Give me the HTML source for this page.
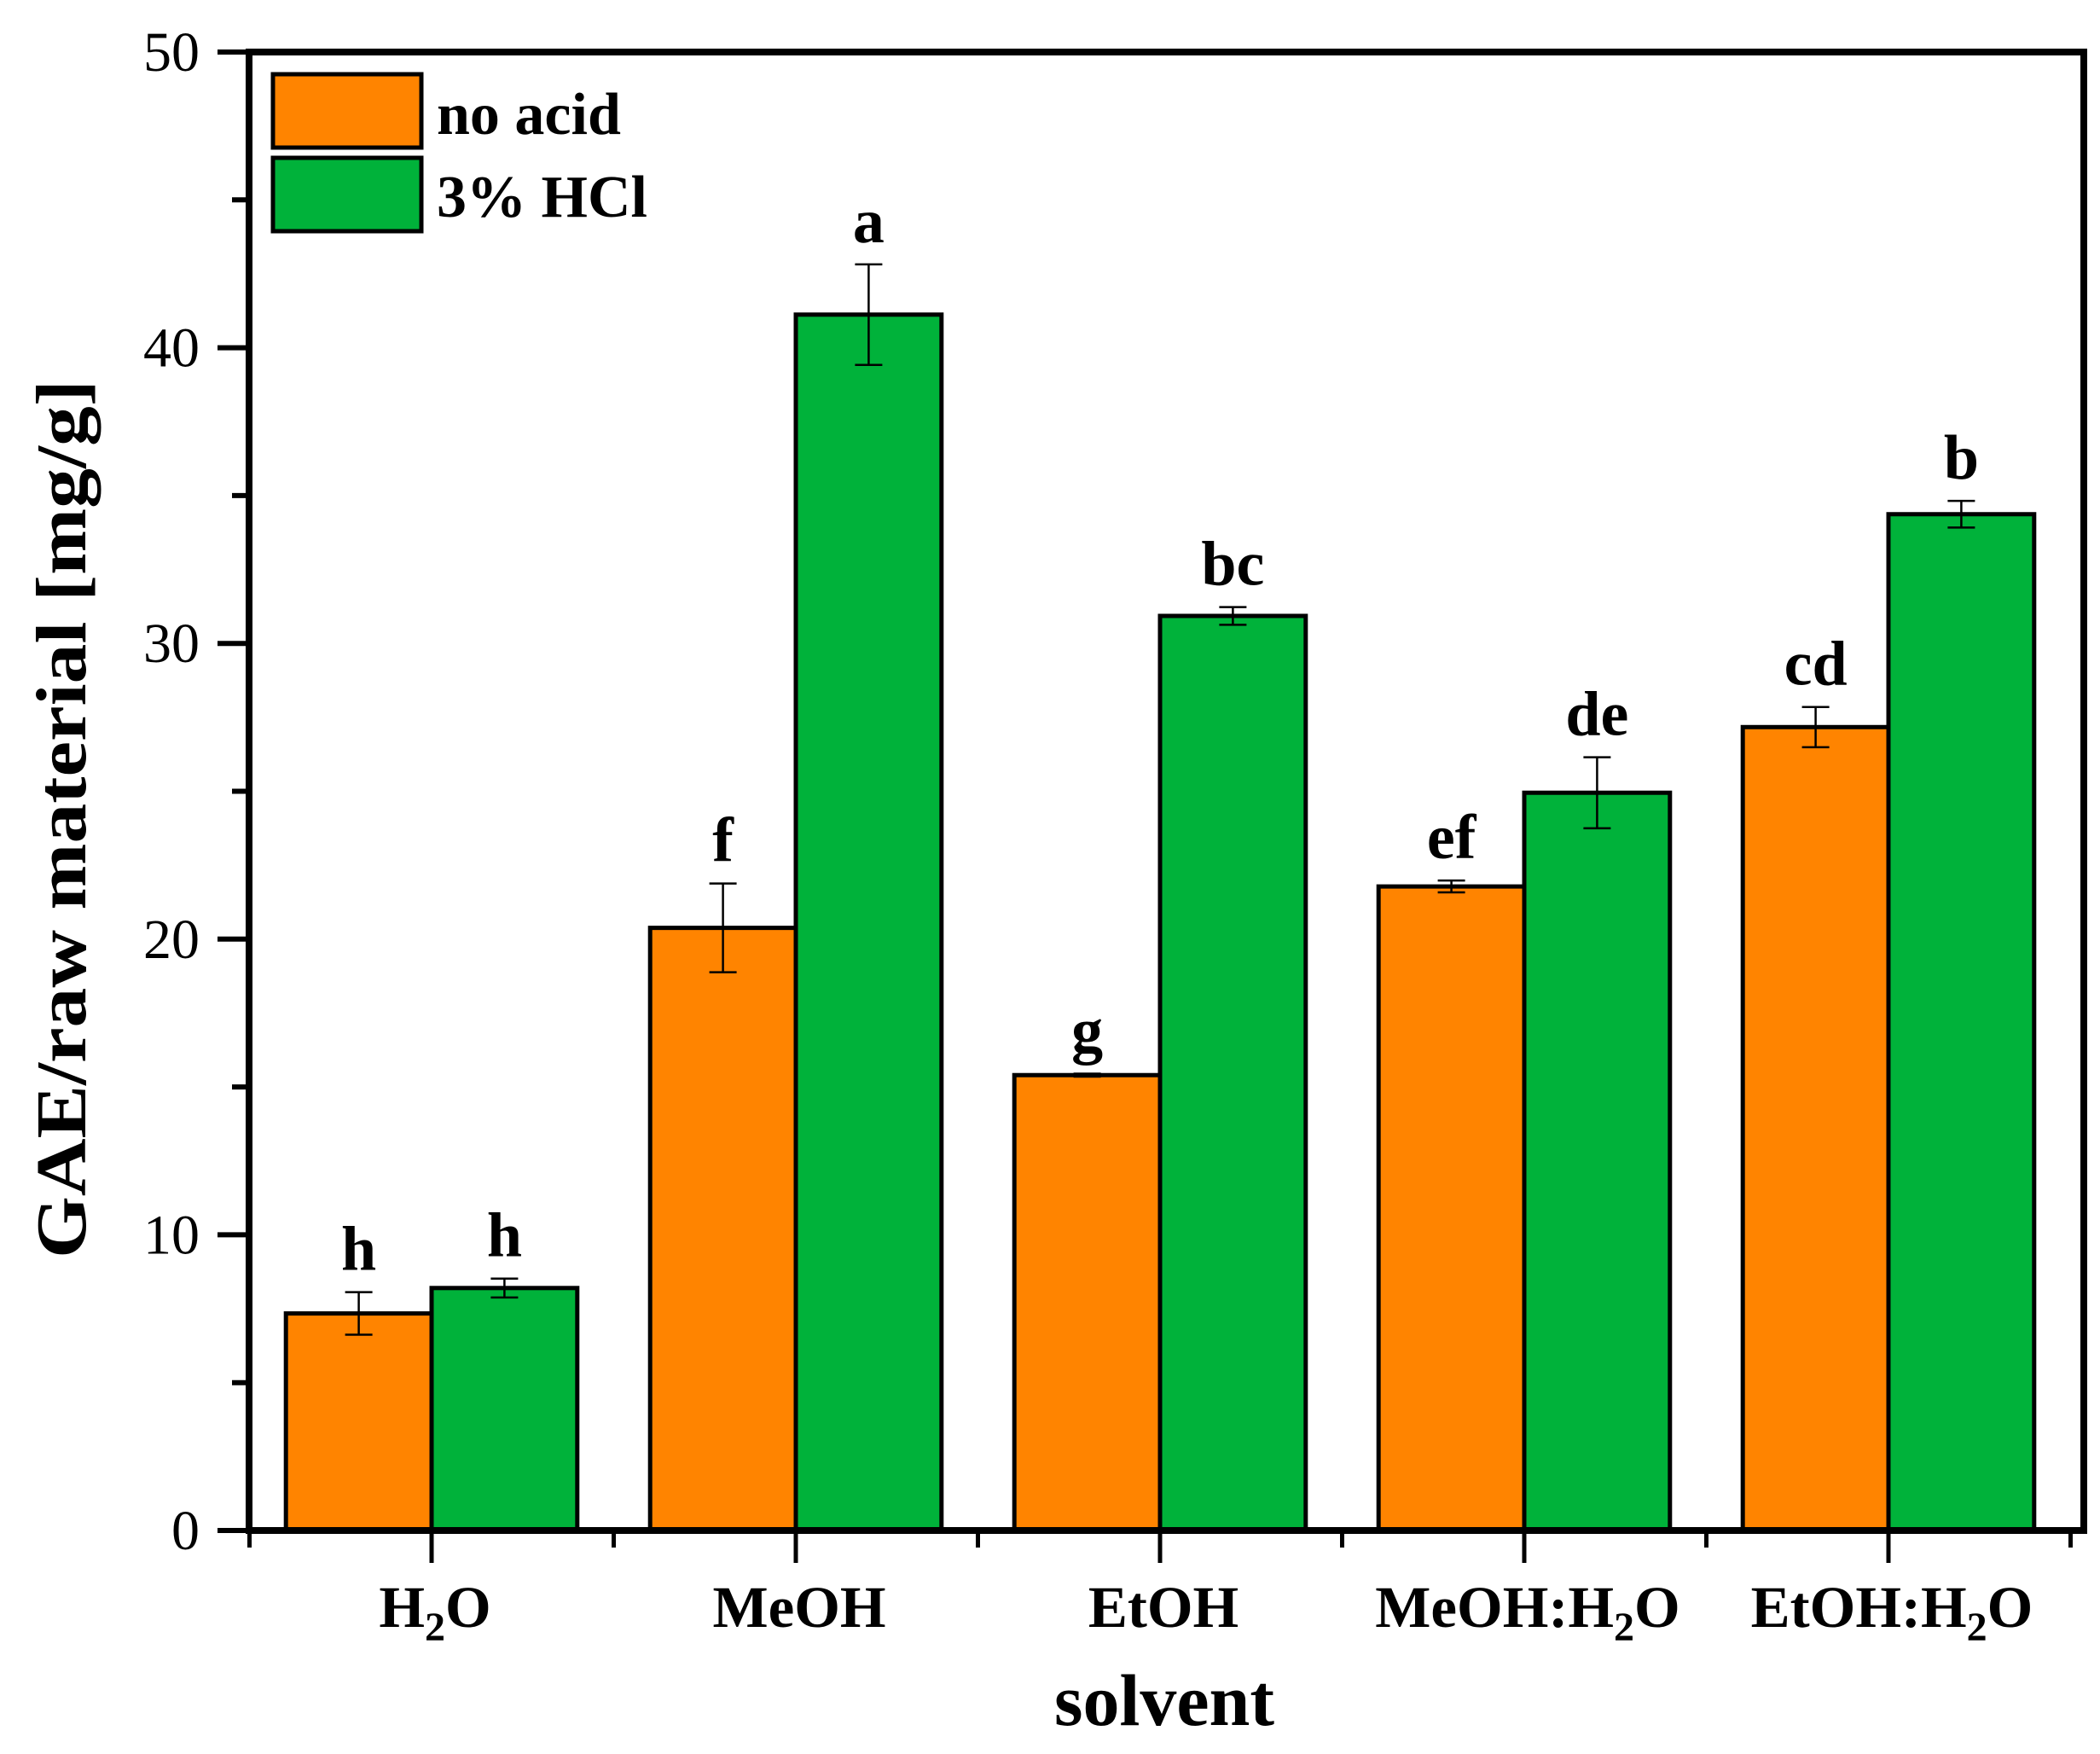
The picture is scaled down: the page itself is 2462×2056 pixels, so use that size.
<!DOCTYPE html>
<html><head><meta charset="utf-8"><style>
html,body{margin:0;padding:0;background:#fff;}
svg{display:block;}
text{font-family:"Liberation Serif",serif;fill:#000;}
</style></head><body>
<svg id="chart" width="2462" height="2056" viewBox="0 0 2462 2056" xmlns="http://www.w3.org/2000/svg"></svg>
<script>
const categories = ["H2O","MeOH","EtOH","MeOH:H2O","EtOH:H2O"];
const noAcid = [7.34, 20.38, 15.4, 21.78, 27.17];
const noAcidErr = [0.72, 1.5, 0.05, 0.2, 0.68];
const hcl = [8.2, 41.12, 30.93, 24.95, 34.37];
const hclErr = [0.32, 1.7, 0.3, 1.2, 0.45];
const noAcidLetters = ["h","f","g","ef","cd"];
const hclLetters = ["h","a","bc","de","b"];
const yTicks = [0,10,20,30,40,50];

const NS="http://www.w3.org/2000/svg";
const svg=document.getElementById('chart');
const L=292,R=2443,T=61,B=1794;
const yMax=50;
const step=427;
const x0c=506;
function y(v){return B-(v/yMax)*(B-T);}
function xc(i){return x0c+i*step;}
const bw=step*0.4;
function el(tag,attrs,parent){const e=document.createElementNS(NS,tag);for(const k in attrs)e.setAttribute(k,attrs[k]);(parent||svg).appendChild(e);return e;}

const gBars=el('g',{});


function drawBar(i,v,e,color,xl,letter,series){
  const r=el('rect',{x:xl,y:y(v),width:bw,height:B-y(v),fill:color,stroke:'#000','stroke-width':5},gBars);
  
  
  const cx=xl+bw/2;
  const eg=el('g',{stroke:'#000','stroke-width':2.5},gBars);
  
  
  el('line',{x1:cx,x2:cx,y1:y(v+e),y2:y(v-e)},eg);
  el('line',{x1:cx-16,x2:cx+16,y1:y(v+e),y2:y(v+e)},eg);
  el('line',{x1:cx-16,x2:cx+16,y1:y(v-e),y2:y(v-e)},eg);
  const t=el('text',{x:cx,y:y(v+e)-26,'text-anchor':'middle','font-size':74,'font-weight':'bold'},gBars);
  t.textContent=letter;
  
  
}
for(let i=0;i<categories.length;i++){
  drawBar(i,noAcid[i],noAcidErr[i],'#ff8400',xc(i)-bw,noAcidLetters[i],'no-acid');
  drawBar(i,hcl[i],hclErr[i],'#00b23a',xc(i),hclLetters[i],'hcl');
}

const ax=el('g',{stroke:'#000','stroke-width':8,fill:'none'});


el('rect',{x:L,y:T,width:R-L,height:B-T},ax);

const gy=el('g',{});


for(let v=0;v<=yMax;v+=5){
  const major=v%10===0;
  el('line',{x1:major?255:272,x2:L,y1:y(v),y2:y(v),stroke:'#000','stroke-width':6},gy);
}
yTicks.forEach(v=>{
  const t=el('text',{x:234,y:y(v)+22,'text-anchor':'end','font-size':66},gy);
  t.textContent=v;
  
  
});

const gx=el('g',{});


for(let i=0;i<=categories.length;i++){
  const xm=xc(i)-step/2;
  el('line',{x1:xm,x2:xm,y1:B,y2:B+20,stroke:'#000','stroke-width':5},gx);
}
const labelsHTML=['H<tspan dy="16" font-size="48">2</tspan><tspan dy="-16">O</tspan>','MeOH','EtOH','MeOH:H<tspan dy="16" font-size="48">2</tspan><tspan dy="-16">O</tspan>','EtOH:H<tspan dy="16" font-size="48">2</tspan><tspan dy="-16">O</tspan>'];
for(let i=0;i<categories.length;i++){
  el('line',{x1:xc(i),x2:xc(i),y1:B,y2:B+38,stroke:'#000','stroke-width':5},gx);
  const t=el('text',{x:xc(i)+4,y:1907,'text-anchor':'middle','font-size':69,'font-weight':'bold'},gx);
  t.innerHTML=labelsHTML[i];
  
  
}
</script>
<svg style="position:absolute;left:0;top:0" width="2462" height="2056">
<text x="1365" y="2022" text-anchor="middle" font-size="86" font-weight="bold" style="font-family:'Liberation Serif',serif">solvent</text>
<text transform="translate(100,960) rotate(-90)" text-anchor="middle" font-size="84" font-weight="bold" textLength="1030" lengthAdjust="spacingAndGlyphs" style="font-family:'Liberation Serif',serif">GAE/raw material [mg/g]</text>
<g>
<rect x="320" y="87" width="174" height="86" fill="#ff8400" stroke="#000" stroke-width="5"/>
<rect x="320" y="185" width="174" height="86" fill="#00b23a" stroke="#000" stroke-width="5"/>
<text x="512" y="157" font-size="70" font-weight="bold" style="font-family:'Liberation Serif',serif">no acid</text>
<text x="512" y="254" font-size="70" font-weight="bold" style="font-family:'Liberation Serif',serif">3% HCl</text>
</g>
</svg>
</body></html>
